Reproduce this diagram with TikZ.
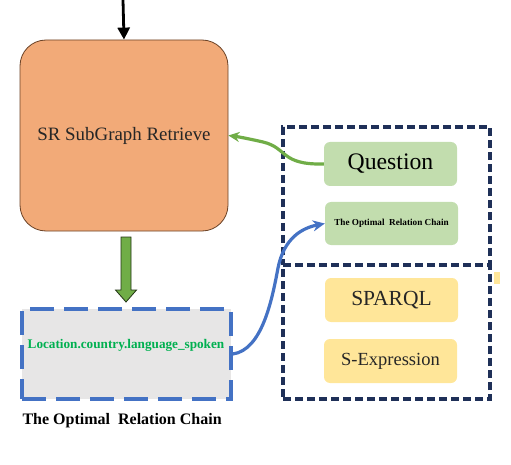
\documentclass[tikz,border=0pt]{standalone}
\usepackage{fontspec}
\setmainfont{Liberation Serif}
\usetikzlibrary{arrows.meta}
\definecolor{orangefill}{HTML}{F2AA78}
\definecolor{orangeline}{HTML}{6B4226}
\definecolor{lgreen}{HTML}{C2DDAE}
\definecolor{lyellow}{HTML}{FFE699}
\definecolor{lgrey}{HTML}{E7E6E6}
\definecolor{mblue}{HTML}{4472C4}
\definecolor{navy}{HTML}{1F3058}
\definecolor{mgreen}{HTML}{70AD47}
\definecolor{ctxtgreen}{HTML}{00B050}
\tikzset{
  px/.style={x=1pt,y=-1pt},
  softbox/.style={rounded corners=6pt, minimum width=133pt, minimum height=44pt, inner sep=0pt, draw=none},
  framebox/.style={draw=navy, line width=3.2pt, dash pattern=on 8pt off 4pt, inner sep=0pt},
}
\begin{document}
\begin{tikzpicture}[px]
\useasboundingbox (0,0) rectangle (511,465);
% orange box
\node[draw=orangeline, line width=0.8pt, fill=orangefill, rounded corners=26pt,
      minimum width=208pt, minimum height=191pt, inner sep=0pt,
      font=\fontsize{18.9}{22}\selectfont, text=black!85] (sr) at (124,135.5) {SR SubGraph Retrieve};
\coordinate (top) at (123,0);
\draw[line width=2.8pt, -{Triangle[length=12pt,width=12pt]}] (top) -- (sr.north);
% grey dashed box
\node[fill=lgrey, draw=mblue, line width=3.6pt, dash pattern=on 24pt off 10pt,
      minimum width=209pt, minimum height=90pt, inner sep=0pt] (rc) at (126.5,354) {};
\node[font=\bfseries\fontsize{13.2}{15}\selectfont, text=ctxtgreen] (rct) at (126,345) {Location.country.language\_spoken};
\node[font=\bfseries\fontsize{16}{18}\selectfont, anchor=west] (lab) at (19,421) {The Optimal\ \ Relation Chain};
% green block arrow
\filldraw[fill=mgreen, draw=black!70!mgreen, line width=0.8pt]
  (121,237) -- (131,237) -- (131,290) -- (136.5,290) -- (126,302) -- (115.5,290) -- (121,290) -- cycle;
% navy frames
\node[framebox, minimum width=207pt, minimum height=138pt] (fup) at (386.5,196) {};
\node[framebox, minimum width=207pt, minimum height=134pt] (flow) at (386.5,332) {};
% inner boxes
\node[softbox, fill=lgreen, font=\fontsize{23.7}{28}\selectfont] (q) at (390.5,164) {Question};
\node[softbox, fill=lgreen, minimum height=43pt, font=\bfseries\fontsize{9.2}{11}\selectfont] (ch) at (391.5,223.5) {The Optimal\ \ Relation Chain};
\node[softbox, fill=lyellow, font=\fontsize{21.5}{25}\selectfont, text=black!85] (sp) at (391.5,300) {SPARQL};
\node[softbox, fill=lyellow, font=\fontsize{18.5}{22}\selectfont, text=black!85] (se) at (390.5,361) {S-Expression};
% small yellow fragment
\fill[lyellow] (494,272) rectangle (500,284);
% green curved arrow
\draw[mgreen, line width=3.2pt, -{Stealth[length=11pt,width=10pt]}]
  (q.west) .. controls (280,165) and (288,148) .. (263,142) .. controls (252,139.5) and (240,137) .. (sr.east);
% blue curved arrow
\draw[mblue, line width=3.2pt, -{Stealth[length=12pt,width=11pt]}]
  (rc.east) .. controls (262,350) and (272,300) .. (278,268) .. controls (284,238) and (302,228) .. (ch.west);
\end{tikzpicture}
\end{document}
